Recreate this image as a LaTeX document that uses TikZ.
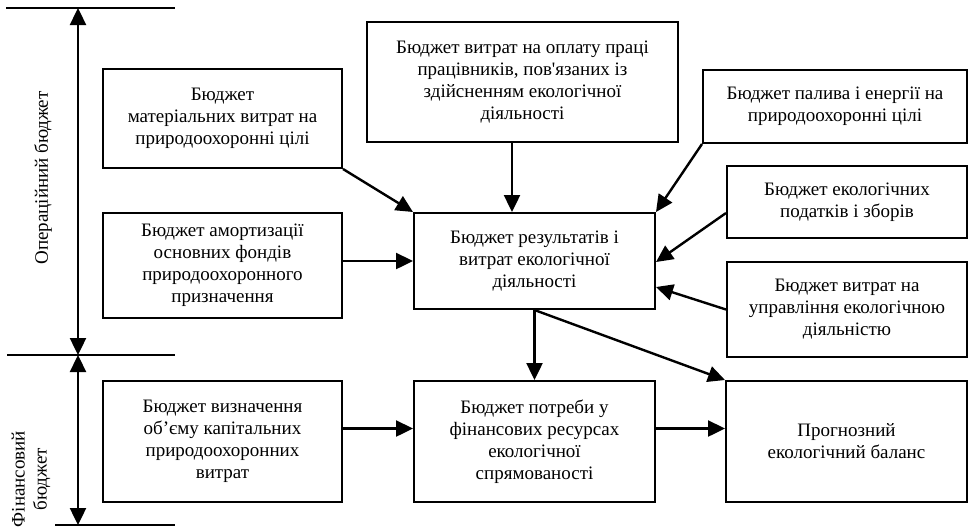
\documentclass[tikz,border=0pt]{standalone}
\usepackage{fontspec}
\setmainfont{Liberation Serif}
\usetikzlibrary{arrows.meta}
\usetikzlibrary{positioning}

\begin{document}
\begin{tikzpicture}[x=0.5pt,y=-0.5pt,->,>={Triangle[length=8.5pt,width=8pt]},line width=1.2pt,
  font=\fontsize{9.5}{11}\selectfont]
  \tikzstyle{block}=[draw=black, line width=1pt, align=center, inner sep=2pt]
  \tikzstyle{side}=[rotate=90, align=center, inner sep=1pt]
  \useasboundingbox (0,0) rectangle (973,527);
  % operational part
  \node[block, minimum width=119.5pt, minimum height=49.5pt] (mat)   at (222.5,118.5) {Бюджет\\матеріальних витрат на\\природоохоронні цілі};
  \node[block, minimum width=119.5pt, minimum height=52.5pt] (amort) at (222.5,265.5) {Бюджет амортизації\\основних фондів\\природоохоронного\\призначення};
  \node[block, minimum width=155.5pt, minimum height=60pt]   (opl)   at (522.5,82)    {Бюджет витрат на оплату праці\\працівників, пов\textquotesingle язаних із\\здійсненням екологічної\\діяльності};
  \node[block, minimum width=120.5pt, minimum height=48pt]   (rez)   at (534.5,261)   {Бюджет результатів і\\витрат екологічної\\діяльності};
  \node[block, minimum width=132pt,   minimum height=36.5pt] (pal)   at (835,106.5)   {Бюджет палива і енергії на\\природоохоронні цілі};
  \node[block, minimum width=120pt,   minimum height=36pt]   (pod)   at (847,202)     {Бюджет екологічних\\податків і зборів};
  \node[block, minimum width=120pt,   minimum height=47.5pt] (upr)   at (847,309.5)   {Бюджет витрат на\\управління екологічною\\діяльністю};
  % financial part
  \node[block, minimum width=119.5pt, minimum height=60.5pt] (vyzn)  at (222.5,441.5) {Бюджет визначення\\об’єму капітальних\\природоохоронних\\витрат};
  \node[block, minimum width=120.5pt, minimum height=60.5pt] (potr)  at (534.5,441.5) {Бюджет потреби у\\фінансових ресурсах\\екологічної\\спрямованості};
  \node[block, minimum width=120.5pt, minimum height=60.5pt] (prog)  at (846.5,441.5) {Прогнозний\\екологічний баланс};

  \path (mat.south east) edge (rez.north west)
        (amort.east |- rez.west) edge (rez.west)
        ([xshift=-5.25pt]opl.south) edge ([xshift=-5.25pt]opl.south |- rez.north)
        (pal.south west) edge (rez.north east)
        ([yshift=-5.5pt]pod.west) edge ([yshift=-0.5pt]rez.east)
        (upr.west) edge ([yshift=-13pt]rez.east)
        (rez.south) edge (potr.north)
        (rez.south) edge (prog.north west)
        ([yshift=6.5pt]vyzn.east) edge ([yshift=6.5pt]potr.west)
        ([yshift=6.5pt]potr.east) edge ([yshift=6.5pt]prog.west);

  % scale on the left
  \coordinate (t0) at (6,8);     \coordinate (t1) at (175,8);
  \coordinate (m0) at (7,355);   \coordinate (m1) at (175,355);
  \coordinate (b0) at (55,525);  \coordinate (b1) at (175,525);
  \coordinate (at) at (78,8);    \coordinate (am) at (78,355);  \coordinate (ab) at (78,525);
  \draw[-, line width=1pt] (t0) -- (t1);
  \draw[-, line width=1pt] (m0) -- (m1);
  \draw[-, line width=1pt] (b0) -- (b1);
  \draw[<->] (at) -- (am);
  \draw[<->] (am) -- (ab);
  \node[side] (oper) at (43,178) {Операційний бюджет};
  \node[side] (fin)  at (31,479) {Фінансовий\\бюджет};
\end{tikzpicture}
\end{document}
